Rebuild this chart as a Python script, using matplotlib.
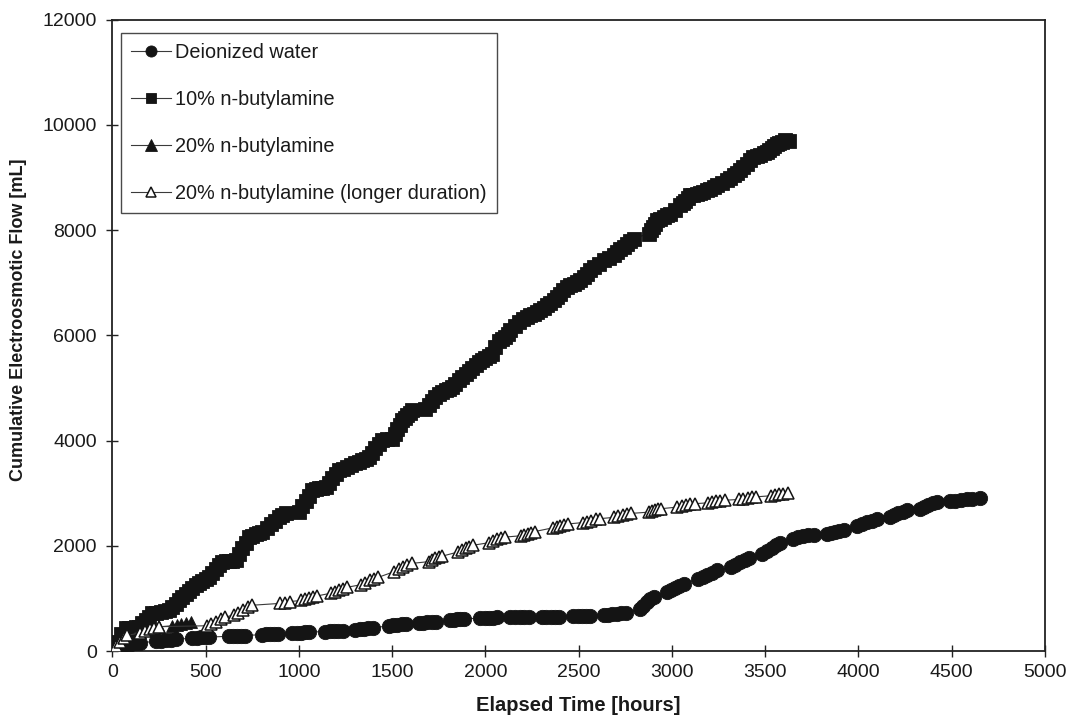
import matplotlib
matplotlib.use("Agg")
import matplotlib.pyplot as plt

plt.rcParams['font.family'] = ['Liberation Sans', 'DejaVu Sans']

# ---------------- data ----------------
di_hours = [
    0, 25, 50, 75, 100, 125, 150,
    235, 262, 289, 316, 343,
    428, 451, 474, 497, 520,
    624, 646, 668, 690, 712,
    803, 824, 845, 866, 887,
    964, 987, 1010, 1033, 1056,
    1142, 1165, 1188, 1211, 1234,
    1303, 1326, 1349, 1372, 1395,
    1481, 1504, 1527, 1550, 1573,
    1642, 1665, 1688, 1711, 1734,
    1811, 1829, 1847, 1866, 1884,
    1972, 1995, 2018, 2040, 2063,
    2133, 2158, 2183, 2208, 2233,
    2303, 2326, 2349, 2371, 2394,
    2472, 2495, 2518, 2540, 2563,
    2633, 2657, 2680, 2704, 2727, 2751,
    2828, 2846, 2865, 2884, 2902,
    2972, 2995, 3018, 3040, 3063,
    3140, 3165, 3190, 3215, 3241,
    3315, 3340, 3365, 3390, 3415,
    3485, 3510, 3535, 3560, 3581,
    3651, 3678, 3705, 3732, 3759,
    3829, 3852, 3875, 3897, 3920,
    3990, 4017, 4044, 4072, 4099,
    4169, 4191, 4214, 4237, 4259,
    4329, 4352, 4375, 4398, 4420,
    4490, 4520, 4550, 4580, 4610, 4652]
di_flow = [
    0, 70, 105, 125, 140, 150, 160,
    182, 193, 203, 213, 222,
    245, 252, 258, 262, 266,
    278, 282, 286, 290, 294,
    312, 316, 320, 324, 328,
    340, 345, 350, 355, 360,
    368, 372, 377, 382, 387,
    405, 414, 422, 430, 438,
    480, 490, 500, 510, 518,
    535, 540, 545, 550, 557,
    590, 597, 603, 608, 612,
    622, 626, 630, 634, 637,
    641, 643, 645, 647, 648,
    650, 651, 652, 653, 654,
    658, 660, 662, 664, 666,
    680, 688, 696, 704, 715, 730,
    800, 860, 930, 990, 1031,
    1120, 1160, 1200, 1240, 1275,
    1370, 1410, 1450, 1490, 1530,
    1600, 1640, 1690, 1730, 1760,
    1840, 1900, 1960, 2020, 2060,
    2130, 2160, 2185, 2200, 2210,
    2220, 2240, 2260, 2280, 2295,
    2370, 2410, 2450, 2480, 2500,
    2540, 2580, 2620, 2650, 2677,
    2700, 2740, 2780, 2810, 2835,
    2845, 2860, 2875, 2885, 2895, 2900]

b10_hours = [
    0, 10, 25, 45, 71, 89, 107, 125, 143, 160, 178, 196, 214, 236, 258, 280,
    303, 321, 340, 357, 375, 392, 410, 428, 446, 464, 482, 500, 518, 535, 553,
    571, 589, 607, 625, 643, 661, 679, 697, 714, 732, 750, 768, 786, 804, 826,
    848, 870, 893, 910, 928,
    1000, 1018, 1036, 1054, 1071, 1089, 1107, 1125, 1143, 1160, 1178, 1196,
    1214, 1236, 1258, 1280, 1303, 1321, 1340, 1357, 1375, 1392, 1410, 1428,
    1446, 1473, 1500, 1513, 1527, 1540, 1553, 1567, 1580, 1594, 1607,
    1678, 1696, 1714, 1732, 1750, 1768, 1786, 1803, 1821, 1839, 1857, 1875,
    1893, 1911, 1930, 1947, 1964, 1982, 2000, 2018, 2036, 2053, 2070, 2088,
    2107, 2120, 2134, 2157, 2180, 2201, 2223, 2240, 2258, 2276, 2294, 2312,
    2330, 2348, 2366, 2383, 2400, 2418, 2437, 2455, 2473, 2491, 2509, 2527,
    2545, 2562, 2580, 2607, 2634, 2660, 2687, 2705, 2723, 2741, 2759, 2776, 2794,
    2875, 2888, 2900, 2910, 2920, 2938, 2955, 2973, 2991, 3017, 3044, 3057,
    3070, 3084, 3098, 3115, 3133, 3151, 3169, 3187, 3205, 3223, 3241, 3268,
    3295, 3312, 3330, 3348, 3366, 3383, 3400, 3418, 3437, 3455, 3473, 3491,
    3509, 3522, 3535, 3549, 3562, 3576, 3590, 3607, 3630]
b10_flow = [
    0, 60, 180, 320, 430, 438, 445, 452, 462, 525, 590, 655, 715, 730, 745, 760,
    778, 840, 900, 965, 1031, 1085, 1140, 1195, 1253, 1290, 1330, 1370, 1411, 1485, 1560,
    1630, 1696, 1703, 1710, 1719, 1728, 1840, 1950, 2060, 2170, 2192, 2215, 2240, 2265, 2340,
    2410, 2480, 2550, 2585, 2614,
    2645, 2750, 2850, 2955, 3057, 3073, 3090, 3105, 3120, 3200, 3280, 3360,
    3437, 3468, 3500, 3532, 3564, 3595, 3625, 3658, 3690, 3770, 3850, 3930,
    4006, 4022, 4038, 4125, 4210, 4300, 4386, 4433, 4480, 4528, 4576,
    4608, 4680, 4750, 4820, 4893, 4925, 4955, 4987, 5018, 5080, 5145, 5210,
    5272, 5325, 5380, 5437, 5493, 5527, 5560, 5605, 5650, 5775, 5900, 5935,
    5968, 6030, 6094, 6172, 6250, 6300, 6347, 6378, 6410, 6442, 6474, 6522,
    6570, 6617, 6664, 6727, 6790, 6855, 6917, 6948, 6980, 7012, 7044, 7107,
    7170, 7233, 7297, 7360, 7424, 7470, 7519, 7575, 7630, 7685, 7741, 7790, 7836,
    7931, 7995, 8060, 8120, 8184, 8217, 8250, 8280, 8310, 8390, 8468, 8514,
    8560, 8610, 8658, 8674, 8690, 8705, 8721, 8753, 8785, 8816, 8848, 8895,
    8943, 8990, 9040, 9086, 9132, 9195, 9260, 9322, 9385, 9408, 9430, 9455,
    9480, 9520, 9560, 9600, 9639, 9660, 9680, 9702, 9700]

b20_hours = [0, 20, 40, 60, 80, 100, 150, 175, 200, 225, 250, 320, 345, 370, 395, 420]
b20_flow = [0, 80, 160, 230, 280, 320, 360, 390, 420, 440, 460, 480, 500, 520, 540, 556]

b20L_hours = [
    0, 20, 40, 60, 80,
    150, 175, 200, 225, 250,
    505, 530, 555, 580, 605,
    650, 675, 700, 725, 750,
    900, 925, 950,
    1012, 1033, 1054, 1075, 1095,
    1173, 1194, 1215, 1235, 1256,
    1333, 1356, 1379, 1402, 1425,
    1512, 1535, 1558, 1581, 1604,
    1699, 1716, 1732, 1749, 1765,
    1851, 1872, 1893, 1913, 1934,
    2021, 2042, 2063, 2084, 2104,
    2190, 2208, 2227, 2245, 2264,
    2360, 2381, 2402, 2422, 2443,
    2521, 2544, 2567, 2590, 2613,
    2690, 2713, 2736, 2759, 2782,
    2878, 2894, 2910, 2927, 2943,
    3029, 3052, 3075, 3099, 3122,
    3191, 3214, 3237, 3259, 3282,
    3360, 3383, 3406, 3429, 3452,
    3530, 3553, 3576, 3598, 3621]
b20L_flow = [
    0, 90, 180, 250, 300,
    340, 380, 410, 440, 462,
    480, 520, 560, 600, 640,
    690, 730, 780, 830, 870,
    905, 920, 940,
    960, 985, 1005, 1025, 1045,
    1100, 1130, 1160, 1185, 1210,
    1260, 1300, 1340, 1370, 1400,
    1510, 1550, 1590, 1630, 1664,
    1700, 1730, 1760, 1785, 1800,
    1880, 1910, 1950, 1985, 2010,
    2060, 2090, 2120, 2145, 2165,
    2190, 2210, 2230, 2250, 2270,
    2340, 2365, 2385, 2400, 2415,
    2440, 2460, 2480, 2500, 2515,
    2540, 2560, 2580, 2600, 2615,
    2640, 2660, 2675, 2690, 2705,
    2735, 2755, 2770, 2785, 2800,
    2815, 2830, 2845, 2855, 2865,
    2880, 2895, 2910, 2920, 2930,
    2950, 2965, 2980, 2990, 3000]

series_labels = ["Deionized water", "10% n-butylamine", "20% n-butylamine",
                 "20% n-butylamine (longer duration)"]
x_ticks = [0, 500, 1000, 1500, 2000, 2500, 3000, 3500, 4000, 4500, 5000]
y_ticks = [0, 2000, 4000, 6000, 8000, 10000, 12000]
x_label = "Elapsed Time [hours]"
y_label = "Cumulative Electroosmotic Flow [mL]"

# ---------------- figure ----------------
fig = plt.figure(figsize=(10.71, 7.18), dpi=100)
ax = fig.add_axes([0.105, 0.0933, 0.8707, 0.8795])

ink = '#141414'
line_c = '#3a3a3a'
lw = 0.8

ax.plot(di_hours, di_flow, '-', color=line_c, lw=lw, marker='o', ms=10.3,
        mfc=ink, mec=ink, mew=0.6, label=series_labels[0], zorder=3)
ax.plot(b10_hours, b10_flow, '-', color=line_c, lw=lw, marker='s', ms=9.6,
        mfc=ink, mec=ink, mew=0.6, label=series_labels[1], zorder=3)
ax.plot(b20_hours, b20_flow, '-', color=line_c, lw=lw, marker='^', ms=8.2,
        mfc=ink, mec=ink, mew=0.6, label=series_labels[2], zorder=3)
ax.plot(b20L_hours, b20L_flow, '-', color=line_c, lw=lw, marker='^', ms=8.6,
        mfc='white', mec=ink, mew=1.1, label=series_labels[3], zorder=3)

ax.set_xlim(0, 5000)
ax.set_ylim(0, 12000)
ax.set_xticks(x_ticks)
ax.set_yticks(y_ticks)
ax.set_xticklabels([str(v) for v in x_ticks])
ax.set_yticklabels([str(v) for v in y_ticks])

ax.tick_params(axis='both', direction='inout', length=8.6, width=1.0,
               color='#222222', labelsize=14, labelcolor='#1a1a1a')
ax.tick_params(axis='x', pad=5)
ax.tick_params(axis='y', pad=7)

for sp in ax.spines.values():
    sp.set_color('#222222')
    sp.set_linewidth(1.3)

ax.set_xlabel(x_label, fontsize=14.5, fontweight='bold', color='#1a1a1a', va='center')
ax.xaxis.set_label_coords(0.5, -0.087)
ax.set_ylabel(y_label, fontsize=13, fontweight='bold', color='#1a1a1a', va='center')
ax.yaxis.set_label_coords(-0.1003, 0.524)

leg = ax.legend(loc='upper left', bbox_to_anchor=(0.009, 0.979), borderaxespad=0,
                fontsize=14.3, frameon=True, fancybox=False, framealpha=1,
                edgecolor='#4a4a4a', handlelength=2.0, handletextpad=0.25,
                labelspacing=1.42, borderpad=0.5)
leg.get_frame().set_linewidth(1.0)
for t in leg.get_texts():
    t.set_color('#1a1a1a')
for h, s in zip(leg.legend_handles, [8.0, 7.4, 8.0, 7.6]):
    h.set_markersize(s)

fig.savefig("out.png", dpi=100, facecolor='white')
